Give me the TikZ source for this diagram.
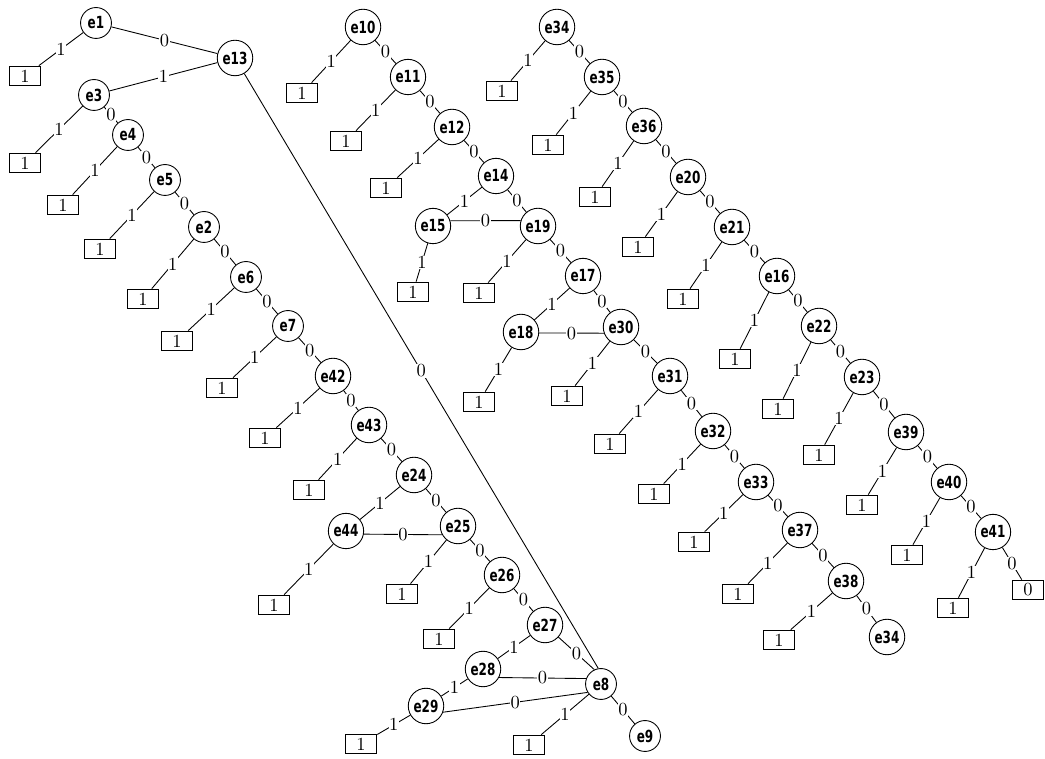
\documentclass[tikz,border=0pt]{standalone}
\usepackage{fontspec}
\usepackage{tikz}
\newfontfamily\enodefont[FakeStretch=0.8]{DejaVu Sans Condensed}

\begin{document}
\begin{tikzpicture}[
    x=0.02cm, y=-0.02cm,
    enode/.style={circle, draw, line width=0.5pt, font=\enodefont\bfseries\fontsize{9.5}{10}\selectfont, inner sep=1.6pt, minimum size=17.6pt},
    leaf/.style={rectangle, draw, line width=0.5pt, font=\fontsize{10.5}{11}\selectfont, inner sep=0pt, minimum width=18pt, minimum height=11.3pt},
    lbl/.style={fill=white, font=\fontsize{10.5}{11}\selectfont, inner sep=0.3pt, pos=0.5},
    every path/.style={line width=0.5pt}
]
\useasboundingbox (0,0) rectangle (1045,759);
% left tree
\node[enode] (e1) at (96,23) {e1};
\node[enode] (e13) at (235,58) {e13};
\node[enode] (e3) at (94,95) {e3};
\node[enode] (e4) at (128,135) {e4};
\node[enode] (e5) at (165,180) {e5};
\node[enode] (e2) at (204,227) {e2};
\node[enode] (e6) at (246,277) {e6};
\node[enode] (e7) at (288,326) {e7};
\node[enode] (e42) at (333,376) {e42};
\node[enode] (e43) at (369,425) {e43};
\node[enode] (e24) at (414,475) {e24};
\node[enode] (e44) at (346,531) {e44};
\node[enode] (e25) at (458,526) {e25};
\node[enode] (e26) at (502,575) {e26};
\node[enode] (e27) at (545,625) {e27};
\node[enode] (e28) at (483,669) {e28};
\node[enode] (e29) at (426,706) {e29};
\node[enode] (e8) at (601,684) {e8};
\node[enode] (e9) at (645,736) {e9};
\node[leaf] (t1) at (25,76) {1};
\node[leaf] (t3) at (25,163) {1};
\node[leaf] (t4) at (63,205) {1};
\node[leaf] (t5) at (100,249) {1};
\node[leaf] (t2) at (143,299) {1};
\node[leaf] (t6) at (177,341) {1};
\node[leaf] (t7) at (222,388) {1};
\node[leaf] (t42) at (265,438) {1};
\node[leaf] (t43) at (309,490) {1};
\node[leaf] (t44) at (274,605) {1};
\node[leaf] (t25) at (402,594) {1};
\node[leaf] (t26) at (439,639) {1};
\node[leaf] (t29) at (361,744) {1};
\node[leaf] (t8) at (529,745) {1};
% middle tree
\node[enode] (e10) at (363,27) {e10};
\node[enode] (e11) at (408,77) {e11};
\node[enode] (e12) at (452,127) {e12};
\node[enode] (e14) at (496,176) {e14};
\node[enode] (e15) at (433,226) {e15};
\node[enode] (e19) at (538,226) {e19};
\node[enode] (e17) at (583,276) {e17};
\node[enode] (e18) at (521,332) {e18};
\node[enode] (e30) at (621,327) {e30};
\node[enode] (e31) at (670,376) {e31};
\node[enode] (e32) at (713,431) {e32};
\node[enode] (e33) at (756,482) {e33};
\node[enode] (e37) at (800,530) {e37};
\node[enode] (e38) at (846,581) {e38};
\node[enode] (e34b) at (887,637) {e34};
\node[leaf] (t10) at (302,93) {1};
\node[leaf] (t11) at (346,141) {1};
\node[leaf] (t12) at (386,188) {1};
\node[leaf] (t15) at (413,292) {1};
\node[leaf] (t19) at (479,293) {1};
\node[leaf] (t18) at (479,402) {1};
\node[leaf] (t30) at (567,396) {1};
\node[leaf] (t31) at (610,444) {1};
\node[leaf] (t32) at (654,494) {1};
\node[leaf] (t33) at (694,542) {1};
\node[leaf] (t37) at (738,594) {1};
\node[leaf] (t38) at (779,640) {1};
% right tree
\node[enode] (e34) at (557,27) {e34};
\node[enode] (e35) at (602,77) {e35};
\node[enode] (e36) at (644,126) {e36};
\node[enode] (e20) at (688,177) {e20};
\node[enode] (e21) at (732,227) {e21};
\node[enode] (e16) at (777,276) {e16};
\node[enode] (e22) at (819,326) {e22};
\node[enode] (e23) at (862,377) {e23};
\node[enode] (e39) at (906,432) {e39};
\node[enode] (e40) at (949,482) {e40};
\node[enode] (e41) at (993,532) {e41};
\node[leaf] (t34) at (502,91) {1};
\node[leaf] (t35) at (548,145) {1};
\node[leaf] (t36) at (595,197) {1};
\node[leaf] (t20) at (638,247) {1};
\node[leaf] (t21) at (683,299) {1};
\node[leaf] (t16) at (735,359) {1};
\node[leaf] (t22) at (778,409) {1};
\node[leaf] (t23) at (819,455) {1};
\node[leaf] (t39) at (862,505) {1};
\node[leaf] (t40) at (907,555) {1};
\node[leaf] (t41) at (953,608) {1};
\node[leaf] (z41) at (1028,590) {0};
% edges of the left tree
\draw (e1) -- node[lbl] {1} (t1);
\draw (e1) -- node[lbl] {0} (e13);
\draw (e13) -- node[lbl] {1} (e3);
\draw (e13) -- node[lbl] {0} (e8.100);
\draw (e3) -- node[lbl] {1} (t3);
\draw (e3) -- node[lbl] {0} (e4);
\draw (e4) -- node[lbl] {1} (t4);
\draw (e4) -- node[lbl] {0} (e5);
\draw (e5) -- node[lbl] {1} (t5);
\draw (e5) -- node[lbl] {0} (e2);
\draw (e2) -- node[lbl] {1} (t2);
\draw (e2) -- node[lbl] {0} (e6);
\draw (e6) -- node[lbl] {1} (t6);
\draw (e6) -- node[lbl] {0} (e7);
\draw (e7) -- node[lbl] {1} (t7);
\draw (e7) -- node[lbl] {0} (e42);
\draw (e42) -- node[lbl] {1} (t42);
\draw (e42) -- node[lbl] {0} (e43);
\draw (e43) -- node[lbl] {1} (t43);
\draw (e43) -- node[lbl] {0} (e24);
\draw (e24) -- node[lbl] {1} (e44);
\draw (e24) -- node[lbl] {0} (e25);
\draw (e44) -- node[lbl] {1} (t44);
\draw (e44.-10) -- node[lbl] {0} (e25.209);
\draw (e25) -- node[lbl] {1} (t25);
\draw (e25) -- node[lbl] {0} (e26);
\draw (e26) -- node[lbl] {1} (t26);
\draw (e26) -- node[lbl] {0} (e27);
\draw (e27) -- node[lbl] {1} (e28);
\draw (e27) -- node[lbl] {0} (e8.115);
\draw (e28) -- node[lbl] {1} (e29);
\draw (e28.-28) -- node[lbl] {0} (e8.160);
\draw (e29) -- node[lbl] {1} (t29);
\draw (e29.-20) -- node[lbl] {0} (e8.212);
\draw (e8) -- node[lbl] {1} (t8);
\draw (e8) -- node[lbl] {0} (e9);
% edges of the middle tree
\draw (e10) -- node[lbl] {1} (t10);
\draw (e10) -- node[lbl] {0} (e11);
\draw (e11) -- node[lbl] {1} (t11);
\draw (e11) -- node[lbl] {0} (e12);
\draw (e12) -- node[lbl] {1} (t12);
\draw (e12) -- node[lbl] {0} (e14);
\draw (e14) -- node[lbl] {1} (e15);
\draw (e14) -- node[lbl] {0} (e19);
\draw (e15) -- node[lbl] {1} (t15);
\draw (e15.17) -- node[lbl] {0} (e19.163);
\draw (e19) -- node[lbl] {1} (t19);
\draw (e19) -- node[lbl] {0} (e17);
\draw (e17) -- node[lbl] {1} (e18);
\draw (e17) -- node[lbl] {0} (e30);
\draw (e18) -- node[lbl] {1} (t18);
\draw (e18.-3) -- node[lbl] {0} (e30.200);
\draw (e30) -- node[lbl] {1} (t30);
\draw (e30) -- node[lbl] {0} (e31);
\draw (e31) -- node[lbl] {1} (t31);
\draw (e31) -- node[lbl] {0} (e32);
\draw (e32) -- node[lbl] {1} (t32);
\draw (e32) -- node[lbl] {0} (e33);
\draw (e33) -- node[lbl] {1} (t33);
\draw (e33) -- node[lbl] {0} (e37);
\draw (e37) -- node[lbl] {1} (t37);
\draw (e37) -- node[lbl] {0} (e38);
\draw (e38) -- node[lbl] {1} (t38);
\draw (e38) -- node[lbl] {0} (e34b);
% edges of the right tree
\draw (e34) -- node[lbl] {1} (t34);
\draw (e34) -- node[lbl] {0} (e35);
\draw (e35) -- node[lbl] {1} (t35);
\draw (e35) -- node[lbl] {0} (e36);
\draw (e36) -- node[lbl] {1} (t36);
\draw (e36) -- node[lbl] {0} (e20);
\draw (e20) -- node[lbl] {1} (t20);
\draw (e20) -- node[lbl] {0} (e21);
\draw (e21) -- node[lbl] {1} (t21);
\draw (e21) -- node[lbl] {0} (e16);
\draw (e16) -- node[lbl] {1} (t16);
\draw (e16) -- node[lbl] {0} (e22);
\draw (e22) -- node[lbl] {1} (t22);
\draw (e22) -- node[lbl] {0} (e23);
\draw (e23) -- node[lbl] {1} (t23);
\draw (e23) -- node[lbl] {0} (e39);
\draw (e39) -- node[lbl] {1} (t39);
\draw (e39) -- node[lbl] {0} (e40);
\draw (e40) -- node[lbl] {1} (t40);
\draw (e40) -- node[lbl] {0} (e41);
\draw (e41) -- node[lbl] {1} (t41);
\draw (e41) -- node[lbl] {0} (z41);
\end{tikzpicture}
\end{document}
